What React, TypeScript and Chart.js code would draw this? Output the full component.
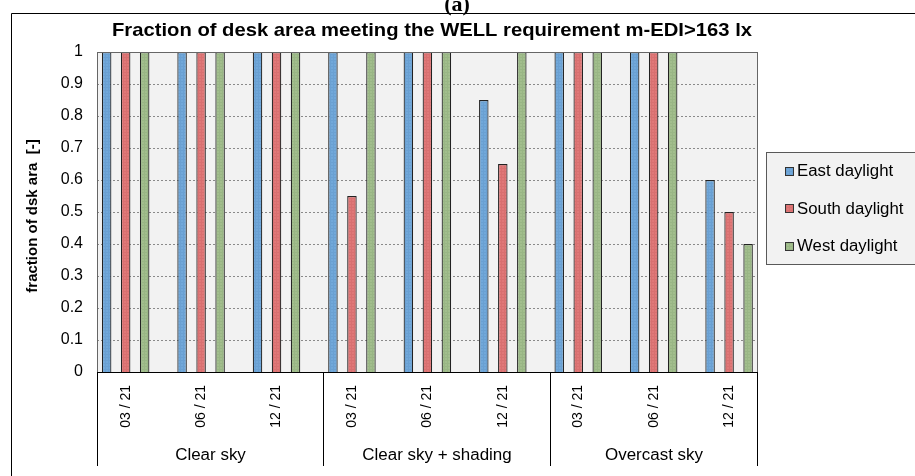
import React, { useEffect, useRef } from 'react';
import { Chart, registerables } from 'chart.js';

Chart.register(...registerables);

const panelLabel = '(a)';
const chartTitle = 'Fraction of desk area meeting the WELL requirement m-EDI>163 lx';
const yAxisTitle = 'fraction of dsk ara  [-]';
const dateLabels = ['03 / 21', '06 / 21', '12 / 21', '03 / 21', '06 / 21', '12 / 21', '03 / 21', '06 / 21', '12 / 21'];
const groupLabels = ['Clear sky', 'Clear sky + shading', 'Overcast sky'];
const seriesNames = ['East daylight', 'South daylight', 'West daylight'];
const eastValues = [1, 1, 1, 1, 1, 0.85, 1, 1, 0.6];
const southValues = [1, 1, 1, 0.55, 1, 0.65, 1, 1, 0.5];
const westValues = [1, 1, 1, 1, 1, 1, 1, 1, 0.4];
const yTickLabels = ['0', '0.1', '0.2', '0.3', '0.4', '0.5', '0.6', '0.7', '0.8', '0.9', '1'];

const FONT = '"Liberation Sans", Arial, sans-serif';
const seriesColors = ['#71a8da', '#e07878', '#a2be8d'];
const seriesLineColors = ['#6aa0d2', '#d87070', '#99b685'];

function makePattern(base: string, line: string): CanvasPattern | string {
  const c = document.createElement('canvas');
  c.width = 3;
  c.height = 3;
  const g = c.getContext('2d');
  if (!g) return base;
  g.fillStyle = base;
  g.fillRect(0, 0, 3, 3);
  g.fillStyle = line;
  g.fillRect(0, 0, 3, 1);
  g.fillRect(0, 0, 1, 3);
  const p = g.createPattern(c, 'repeat');
  return p || base;
}

function fillTextWide(ctx: CanvasRenderingContext2D, text: string, x: number, y: number, sx: number) {
  ctx.save();
  ctx.translate(x, y);
  ctx.scale(sx, 1);
  ctx.fillText(text, 0, 0);
  ctx.restore();
}

export default function App() {
  const canvasRef = useRef<HTMLCanvasElement | null>(null);

  useEffect(() => {
    const canvas = canvasRef.current;
    if (!canvas) return;
    const fills = seriesColors.map((c, i) => makePattern(c, seriesLineColors[i]));
    const seriesValues = [eastValues, southValues, westValues];

    const decorPlugin = {
      id: 'decor',
      beforeDraw(chart: any) {
        const { ctx, chartArea: a } = chart;
        ctx.save();
        ctx.fillStyle = '#ffffff';
        ctx.fillRect(0, 0, chart.width, chart.height);
        ctx.fillStyle = '#f2f2f2';
        ctx.fillRect(a.left, a.top, a.right - a.left, a.bottom - a.top);
        ctx.restore();
      },
      beforeDatasetsDraw(chart: any) {
        const { ctx, chartArea: a } = chart;
        const ys = chart.scales.y;
        ctx.save();
        ctx.strokeStyle = '#8a8a8a';
        ctx.lineWidth = 1;
        ctx.setLineDash([2, 2]);
        ctx.beginPath();
        ys.ticks.forEach((t: any) => {
          const py = Math.round(ys.getPixelForValue(t.value)) + 0.5;
          ctx.moveTo(a.left, py);
          ctx.lineTo(a.right, py);
        });
        ctx.stroke();
        ctx.restore();
      },
      afterDraw(chart: any) {
        const { ctx, chartArea: a } = chart;
        const xs = chart.scales.x;
        ctx.save();
        // outer frame
        ctx.strokeStyle = '#000000';
        ctx.lineWidth = 1;
        ctx.beginPath();
        ctx.moveTo(11.5, chart.height + 2);
        ctx.lineTo(11.5, 13.5);
        ctx.lineTo(chart.width + 2, 13.5);
        ctx.stroke();

        // panel label
        ctx.fillStyle = '#000';
        ctx.font = 'bold 22px "Liberation Serif", "Times New Roman", serif';
        ctx.textAlign = 'center';
        ctx.textBaseline = 'alphabetic';
        ctx.fillText(panelLabel, 457, 11);

        // title (fit to reference width)
        ctx.font = 'bold 19px ' + FONT;
        ctx.textBaseline = 'middle';
        const tw = ctx.measureText(chartTitle).width;
        fillTextWide(ctx, chartTitle, 432, 31, 640 / tw);

        // y title
        ctx.save();
        ctx.translate(33, 216);
        ctx.rotate(-Math.PI / 2);
        ctx.font = 'bold 15px ' + FONT;
        ctx.fillText(yAxisTitle, 0, 0);
        ctx.restore();

        // plot frame
        ctx.strokeStyle = '#666666';
        ctx.lineWidth = 1;
        ctx.strokeRect(Math.round(a.left) + 0.5, Math.round(a.top) + 0.5, Math.round(a.right - a.left), Math.round(a.bottom - a.top));
        ctx.strokeStyle = '#000';
        ctx.beginPath();
        ctx.moveTo(a.left, Math.round(a.bottom) + 0.5);
        ctx.lineTo(a.right, Math.round(a.bottom) + 0.5);
        ctx.stroke();

        // group separators and labels
        const n = groupLabels.length;
        const per = dateLabels.length / n;
        const bounds: number[] = [];
        for (let k = 0; k <= n; k++) {
          let px: number;
          if (k === 0) px = a.left;
          else if (k === n) px = a.right;
          else px = xs.getPixelForValue(k * per - 0.5 + 0.12);
          bounds.push(Math.round(px) + 0.5);
        }
        ctx.beginPath();
        bounds.forEach((px) => {
          ctx.moveTo(px, a.bottom);
          ctx.lineTo(px, 466);
        });
        ctx.stroke();
        ctx.font = '16px ' + FONT;
        ctx.fillStyle = '#000';
        ctx.textAlign = 'center';
        ctx.textBaseline = 'middle';
        groupLabels.forEach((g, k) => {
          fillTextWide(ctx, g, (bounds[k] + bounds[k + 1]) / 2, 456, 1.06);
        });

        // legend
        ctx.fillStyle = '#f2f2f2';
        ctx.fillRect(766.5, 152.5, 200, 112);
        ctx.strokeStyle = '#595959';
        ctx.strokeRect(766.5, 152.5, 200, 112);
        ctx.font = '16px ' + FONT;
        ctx.textAlign = 'left';
        seriesNames.forEach((name, i) => {
          const cy = 171 + i * 37.5;
          ctx.fillStyle = fills[i] as any;
          ctx.fillRect(785, Math.round(cy - 4.5), 9, 9);
          ctx.strokeStyle = '#333';
          ctx.strokeRect(785.5, Math.round(cy - 4.5) + 0.5, 8, 8);
          ctx.fillStyle = '#000';
          fillTextWide(ctx, name, 797, cy + 1, 1.05);
        });
        ctx.restore();
      },
    };

    const chart = new Chart(canvas, {
      type: 'bar',
      data: {
        datasets: seriesNames.map((name, i) => ({
          label: name,
          data: seriesValues[i].map((v, j) => ({ x: j, y: v })),
          backgroundColor: fills[i] as any,
          borderColor: '#222222',
          borderWidth: 1.2,
          categoryPercentage: 0.756,
          barPercentage: 0.5,
        })),
      },
      options: {
        responsive: false,
        animation: false,
        events: [],
        layout: { padding: { left: 0, right: 158, top: 52, bottom: 0 } },
        plugins: {
          legend: { display: false },
          title: { display: false },
          tooltip: { enabled: false },
        },
        scales: {
          x: {
            type: 'linear',
            offset: false,
            min: -0.38,
            max: 8.37,
            afterBuildTicks: (scale: any) => {
              scale.ticks = dateLabels.map((_, i) => ({ value: i }));
            },
            afterFit: (scale: any) => {
              scale.height = 104;
            },
            grid: { display: false, drawTicks: false },
            border: { display: false },
            ticks: {
              autoSkip: false,
              minRotation: 90,
              maxRotation: 90,
              padding: 13,
              color: '#000',
              font: { family: FONT, size: 14 },
              callback: (value: any) => dateLabels[Math.round(Number(value))] ?? '',
            },
          },
          y: {
            type: 'linear',
            min: 0,
            max: 1,
            afterFit: (scale: any) => {
              scale.width = 97;
            },
            afterBuildTicks: (scale: any) => {
              scale.ticks = yTickLabels.map((_, i) => ({ value: i / 10 }));
            },
            grid: { display: false, drawTicks: false },
            border: { display: false },
            ticks: {
              padding: 14,
              color: '#000',
              font: { family: FONT, size: 16 },
              callback: (_v: any, idx: number) => yTickLabels[idx],
            },
          },
        },
      },
      plugins: [decorPlugin],
    });
    return () => chart.destroy();
  }, []);

  return (
    <div style={{ position: 'absolute', left: 0, top: 0, width: 915, height: 476, background: '#fff' }}>
      <canvas ref={canvasRef} width={915} height={476} style={{ display: 'block', width: 915, height: 476 }} />
    </div>
  );
}
